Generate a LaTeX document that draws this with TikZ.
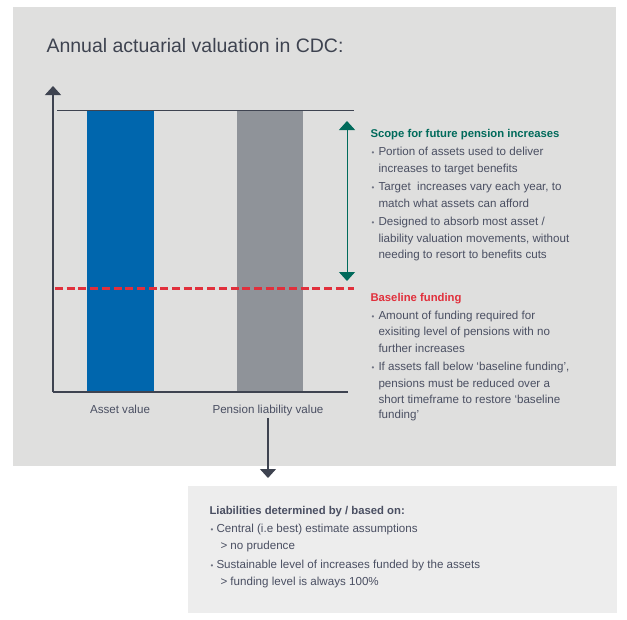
\documentclass[tikz,border=0pt]{standalone}
\usepackage{fontspec}
\setmainfont{Liberation Sans}
\usetikzlibrary{arrows.meta}
\definecolor{panelgray}{HTML}{DFDFDE}
\definecolor{notegray}{HTML}{EDEDED}
\definecolor{inkgray}{HTML}{4A4F62}
\definecolor{titlegray}{HTML}{3E4350}
\definecolor{assetblue}{HTML}{0066AD}
\definecolor{liabgray}{HTML}{8F9399}
\definecolor{scopegreen}{HTML}{006A5B}
\definecolor{baselinered}{HTML}{E1303C}
\begin{document}
\begin{tikzpicture}[x=1pt,y=-1pt,line width=1pt,
	bodytext/.style={anchor=base west,inner sep=0pt,text=inkgray,font=\fontsize{11.6}{13}\selectfont},
	headtext/.style={bodytext,font=\fontsize{11.3}{13}\selectfont\bfseries},
	dot/.style={anchor=base west,inner sep=0pt,text=inkgray!80,font=\fontsize{8}{9}\selectfont},
	barlabel/.style={anchor=base,inner sep=0pt,text=inkgray,font=\fontsize{11.6}{13}\selectfont},
	axis/.style={draw=titlegray,line width=1.2pt},
	tip/.style={-{Triangle[width=16pt,length=9pt]}}]
	\useasboundingbox (0,0) rectangle (627,619);
	% panels
	\fill[panelgray] (13,7) rectangle (616,466);
	\node[fill=notegray,inner sep=0pt,minimum width=429pt,minimum height=127pt,anchor=north west] (notebox) at (187,485) {};
	\node[anchor=base west,inner sep=0pt,text=titlegray,font=\fontsize{19.5}{22}\selectfont] (title) at (46,52) {Annual actuarial valuation in CDC:};
	% bars
	\fill[assetblue] (87,110) rectangle (154,392);
	\fill[liabgray] (237,110) rectangle (303,392);
	\coordinate (origin) at (53,392);
	\coordinate (ytop) at (53,86);
	\coordinate (xend) at (348,392);
	\coordinate (topl) at (57,110);
	\coordinate (topr) at (354,110);
	\draw[axis,line width=1pt] (topl)--(topr);
	\draw[axis,tip] (origin)--(ytop);
	\draw[axis] (origin)--(xend);
	% baseline funding level
	\coordinate (redl) at (55,288.3);
	\coordinate (redr) at (354,288.3);
	\draw[baselinered,line width=2.8pt,dash pattern=on 8pt off 3.7pt] (redl)--(redr);
	% scope arrow
	\coordinate (scopetop) at (347,121);
	\coordinate (scopebot) at (347,281);
	\draw[scopegreen,line width=1pt,{Triangle[width=16pt,length=9pt]}-{Triangle[width=16pt,length=9pt]}] (scopebot)--(scopetop);
	\node[barlabel] (alabel) at (120,413) {Asset value};
	\node[barlabel] (plabel) at (268,413) {Pension liability value};
	\draw[axis,tip,shorten <=2pt,shorten >=7pt] (plabel.south)--(plabel.south |- notebox.north);
	% scope text
	\node[headtext,text=scopegreen] (scopehead) at (370,137) {Scope for future pension increases};
	\foreach \y in {155,190,225} \node[dot] at (371,\y) {•};
	\foreach \y/\t in {155/Portion of assets used to deliver,172/increases to target benefits,
		190/{Target\ \ increases vary each year, to},207/match what assets can afford,
		225/{Designed to absorb most asset /},242/{liability valuation movements, without},
		258/needing to resort to benefits cuts}
		\node[bodytext] at (378,\y) {\t};
	% baseline text
	\node[headtext,text=baselinered] (basehead) at (370,301) {Baseline funding};
	\foreach \y in {319,370} \node[dot] at (371,\y) {•};
	\foreach \y/\t in {319/Amount of funding required for,335/exisiting level of pensions with no,
		352/further increases,370/{If assets fall below ‘baseline funding’,},
		387/pensions must be reduced over a,403/short timeframe to restore ‘baseline,
		418/funding’}
		\node[bodytext] at (378,\y) {\t};
	% liabilities note
	\node[headtext] (notehead) at (209,514) {Liabilities determined by / based on:};
	\foreach \y in {532,568} \node[dot] at (210,\y) {•};
	\node[bodytext] at (216,532) {Central (i.e best) estimate assumptions};
	\node[bodytext] at (220,549) {> no prudence};
	\node[bodytext] at (216,568) {Sustainable level of increases funded by the assets};
	\node[bodytext] at (220,585) {> funding level is always 100\%};
\end{tikzpicture}
\end{document}
